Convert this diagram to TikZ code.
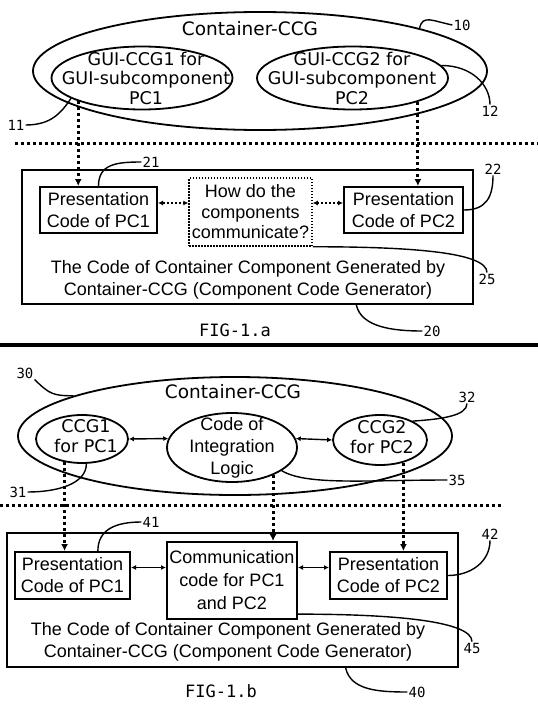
\documentclass[tikz,border=0pt]{standalone}
\usepackage{fontspec}
\setmainfont{Liberation Sans}
\newfontfamily\verd{DejaVu Sans}
\newfontfamily\lucon{DejaVu Sans Mono}
\usetikzlibrary{shapes.geometric,arrows.meta}

\begin{document}
\begin{tikzpicture}[x=1pt,y=-1pt,
	ell/.style={draw=black, ellipse, line width=1.8pt, inner sep=0pt},
	box/.style={draw=black, line width=2pt, inner sep=2pt, align=center, font=\fontsize{18}{22}\selectfont},
	gtext/.style={align=center, inner sep=0pt, font=\verd\fontsize{17.5}{19.5}\selectfont},
	num/.style={inner sep=1pt, font=\lucon\fontsize{14}{16}\selectfont},
	fig/.style={font=\lucon\fontsize{17}{20}\selectfont},
	lead/.style={line width=1.4pt},
	sep/.style={line width=3pt, dash pattern=on 3pt off 3pt},
	vdot/.style={line width=3pt, dash pattern=on 3pt off 3pt, -{Latex[length=7pt,width=7pt]}},
	hdot/.style={line width=2pt, dash pattern=on 2pt off 2pt, {Latex[length=5pt,width=5pt]}-{Latex[length=5pt,width=5pt]}},
	hsol/.style={line width=1.4pt, {Latex[length=5pt,width=5pt]}-{Latex[length=5pt,width=5pt]}}]
		\useasboundingbox (0,0) rectangle (538,704);

		% FIG-1.a
		\node[ell, minimum width=454pt, minimum height=118pt] (ccg) at (260,71) {};
		\node[gtext, font=\verd\fontsize{18.5}{20}\selectfont] (ccgt) at (250,29) {Container-CCG};
		\node[ell, minimum width=181pt, minimum height=63pt] (gui1) at (142,78) {};
		\node[gtext] (gui1t) at (146,78) {GUI-CCG1 for\\GUI-subcomponent\\PC1};
		\node[ell, minimum width=191pt, minimum height=63pt] (gui2) at (352.5,78) {};
		\node[gtext] (gui2t) at (352,78) {GUI-CCG2 for\\GUI-subcomponent\\PC2};
		\draw[sep] (15,143)--(538,143);

		\node[box, minimum width=451pt, minimum height=134pt] (code) at (247.5,237) {};
		\node[box, minimum width=117pt, minimum height=46pt] (pres1) at (98.5,210) {Presentation\\Code of PC1};
		\node[box, minimum width=119pt, minimum height=46pt] (pres2) at (403.5,210) {Presentation\\Code of PC2};
		\node[box, line width=1.5pt, dash pattern=on 1.5pt off 1.5pt, minimum width=123pt, minimum height=68pt, font=\fontsize{18}{20.5}\selectfont] (ask) at (250.5,212) {How do the\\components\\communicate?};
		\node[align=center, font=\fontsize{18}{22}\selectfont] (codet) at (248,280) {The Code of Container Component Generated by\\Container-CCG (Component Code Generator)};
		\node[fig] (figa) at (235,330) {FIG-1.a};

		\draw[vdot] (gui1.200)--(gui1.200 |- pres1.north);
		\draw[vdot] (gui2.-20)--(gui2.-20 |- pres2.north);
		\draw[hdot] ([yshift=7pt]pres1.east)--([yshift=7pt]pres1.east -| ask.west);
		\draw[hdot] ([yshift=7pt]pres2.west -| ask.east)--([yshift=7pt]pres2.west);

		\node[num] (l10) at (462,25) {10};
		\node[num] (l11) at (16,125) {11};
		\node[num] (l12) at (490,111) {12};
		\node[num] (l21) at (151,162) {21};
		\node[num] (l22) at (493,169) {22};
		\node[num] (l25) at (487,279) {25};
		\node[num] (l20) at (432,331) {20};
		\draw[lead] (ccg.15) .. controls +(3,-14) and +(-20,-4) .. (l10.west);
		\draw[lead] (l11.east) .. controls +(25,0) and +(-10,15) .. (gui1.196);
		\draw[lead] (gui2.8) .. controls +(30,0) and +(0,-20) .. (l12.north);
		\draw[lead] (pres1.north) .. controls +(0,-22) and +(-25,0) .. (l21.west);
		\draw[lead] (pres2.east) .. controls +(22,0) and +(0,22) .. (l22.south);
		\draw[lead] (ask.south east) .. controls +(100,0) and +(0,-20) .. (l25.north);
		\draw[lead] (code.-32) .. controls +(5,22) and +(-30,0) .. (l20.west);

		\draw[line width=4.5pt] (0,345)--(538,345);

		% FIG-1.b
		\node[ell, minimum width=434pt, minimum height=118pt] (ccgb) at (235,436) {};
		\node[gtext, font=\verd\fontsize{18.5}{20}\selectfont] (ccgbt) at (233,392) {Container-CCG};
		\node[ell, minimum width=92pt, minimum height=48pt] (cg1) at (82,439) {};
		\node[gtext] (cg1t) at (86,436) {CCG1\\for PC1};
		\node[ell, minimum width=130pt, minimum height=69pt] (integ) at (232,447.5) {};
		\node[align=center, inner sep=0pt, font=\fontsize{18}{22}\selectfont] (integt) at (232,448) {Code of\\Integration\\Logic};
		\node[ell, minimum width=94pt, minimum height=50pt] (cg2) at (380,440) {};
		\node[gtext] (cg2t) at (382,437) {CCG2\\for PC2};
		\draw[hsol] (cg1.east)--(integ.172);
		\draw[hsol] (integ.8)--(cg2.west);
		\draw[sep] (0,505)--(503,505);

		\node[box, minimum width=451pt, minimum height=134pt] (codeb) at (232.5,600) {};
		\node[box, minimum width=115pt, minimum height=47pt] (presb1) at (72.5,575.5) {Presentation\\Code of PC1};
		\node[box, minimum width=130pt, minimum height=77pt, font=\fontsize{18}{23}\selectfont] (comm) at (232,580.5) {Communication\\code for PC1\\and PC2};
		\node[box, minimum width=117pt, minimum height=47pt] (presb2) at (388.5,575.5) {Presentation\\Code of PC2};
		\node[align=center, font=\fontsize{18}{22}\selectfont] (codebt) at (228,642) {The Code of Container Component Generated by\\Container-CCG (Component Code Generator)};
		\node[fig] (figb) at (221,691) {FIG-1.b};

		\draw[vdot] (cg1.233)--(cg1.233 |- presb1.north);
		\draw[vdot] (integ.-34)--(integ.-34 |- comm.north);
		\draw[vdot] (cg2.-44)--(cg2.-44 |- presb2.north);
		\draw[hsol] ([yshift=8pt]presb1.east)--([yshift=8pt]presb1.east -| comm.west);
		\draw[hsol] ([yshift=8pt]presb2.west -| comm.east)--([yshift=8pt]presb2.west);

		\node[num] (l30) at (25,373) {30};
		\node[num] (l32) at (467,397) {32};
		\node[num] (l31) at (18,492) {31};
		\node[num] (l35) at (457,480) {35};
		\node[num] (l41) at (151,522) {41};
		\node[num] (l42) at (490,534) {42};
		\node[num] (l45) at (472,648) {45};
		\node[num] (l40) at (417,692) {40};
		\draw[lead] (l30.south east) .. controls +(15,15) and +(-20,0) .. (ccgb.166);
		\draw[lead] (cg2.30) .. controls +(30,-2) and +(0,12) .. (l32.south);
		\draw[lead] (l31.east) .. controls +(30,0) and +(0,20) .. (cg1.-80);
		\draw[lead] (integ.-25) .. controls +(25,15) and +(-80,0) .. (l35.west);
		\draw[lead] (presb1.44) .. controls +(0,-22) and +(-25,0) .. (l41.west);
		\draw[lead] (presb2.east) .. controls +(22,0) and +(0,22) .. (l42.south);
		\draw[lead] (comm.-27) .. controls +(100,0) and +(0,-20) .. (l45.north);
		\draw[lead] (codeb.-31) .. controls +(5,22) and +(-30,0) .. (l40.west);
	\end{tikzpicture}
\end{document}
